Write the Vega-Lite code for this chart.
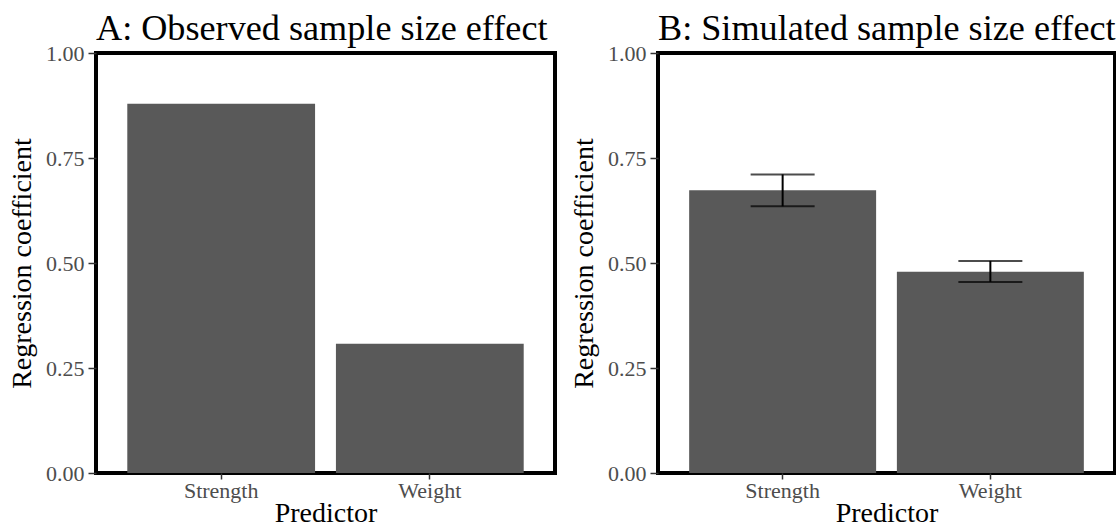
{
  "$schema": "https://vega.github.io/schema/vega-lite/v6.json",
  "background": "white",
  "padding": {"left": 6, "top": 8, "right": 0, "bottom": 0},
  "spacing": 11,
  "config": {
    "font": "Liberation Serif",
    "view": {"stroke": "black", "strokeWidth": 4},
    "title": {"font": "Liberation Serif", "fontSize": 36.2, "fontWeight": "normal", "color": "black", "anchor": "start", "frame": "group", "offset": -5},
    "axis": {
      "labelFont": "Liberation Serif", "labelFontSize": 22, "labelColor": "#4d4d4d",
      "titleFont": "Liberation Serif", "titleFontSize": 28, "titleFontWeight": "normal", "titleColor": "black",
      "tickColor": "#333333", "tickSize": 8, "tickWidth": 1.5, "domain": false, "grid": false
    }
  },
  "datasets": {
    "obs": [
      {"predictor": "Strength", "coef": 0.879},
      {"predictor": "Weight", "coef": 0.308}
    ],
    "sim": [
      {"predictor": "Strength", "coef": 0.673, "lo": 0.635, "hi": 0.711},
      {"predictor": "Weight", "coef": 0.479, "lo": 0.455, "hi": 0.505}
    ]
  },
  "hconcat": [
    {
      "title": "A: Observed sample size effect",
      "width": 459, "height": 420,
      "data": {"name": "obs"},
      "mark": {"type": "bar", "color": "#595959"},
      "encoding": {
        "x": {"field": "predictor", "type": "nominal", "title": "Predictor",
              "scale": {"paddingInner": 0.1, "paddingOuter": 0.15},
              "axis": {"labelAngle": 0, "tickSize": 6, "labelPadding": 1, "titlePadding": -2}},
        "y": {"field": "coef", "type": "quantitative", "title": "Regression coefficient",
              "scale": {"domain": [0, 1], "nice": false, "zero": true},
              "axis": {"values": [0, 0.25, 0.5, 0.75, 1], "format": ".2f", "labelPadding": 4, "titlePadding": 9}}
      }
    },
    {
      "title": "B: Simulated sample size effect",
      "width": 457, "height": 420,
      "data": {"name": "sim"},
      "encoding": {
        "x": {"field": "predictor", "type": "nominal", "title": "Predictor",
              "scale": {"paddingInner": 0.1, "paddingOuter": 0.15},
              "axis": {"labelAngle": 0, "tickSize": 6, "labelPadding": 1, "titlePadding": -2}}
      },
      "layer": [
        {
          "mark": {"type": "bar", "color": "#595959"},
          "encoding": {
            "y": {"field": "coef", "type": "quantitative", "title": "Regression coefficient",
                  "scale": {"domain": [0, 1], "nice": false, "zero": true},
                  "axis": {"values": [0, 0.25, 0.5, 0.75, 1], "format": ".2f", "labelPadding": 4, "titlePadding": 9}}
          }
        },
        {
          "mark": {"type": "rule", "color": "black", "strokeWidth": 2},
          "encoding": {
            "y": {"field": "lo", "type": "quantitative"},
            "y2": {"field": "hi"}
          }
        },
        {
          "mark": {"type": "tick", "color": "black", "size": 64, "thickness": 2},
          "encoding": {"y": {"field": "lo", "type": "quantitative"}}
        },
        {
          "mark": {"type": "tick", "color": "black", "size": 64, "thickness": 2},
          "encoding": {"y": {"field": "hi", "type": "quantitative"}}
        }
      ]
    }
  ]
}
